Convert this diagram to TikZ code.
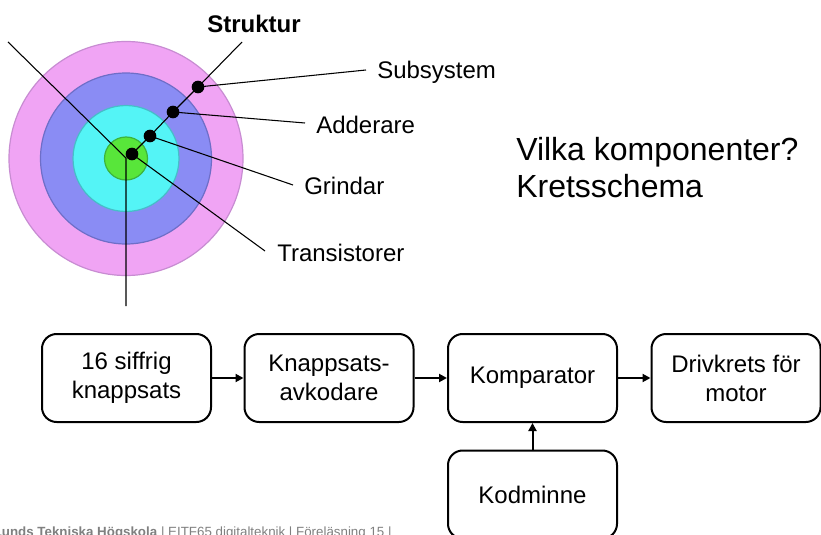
\documentclass[tikz,border=0pt]{standalone}
\usepackage{fontspec}
\setmainfont{Liberation Sans}
\usetikzlibrary{arrows.meta}
\definecolor{ringpink}{RGB}{240,164,244}
\definecolor{ringpinkline}{RGB}{200,140,210}
\definecolor{ringblue}{RGB}{138,140,244}
\definecolor{ringblueline}{RGB}{110,110,200}
\definecolor{ringcyan}{RGB}{84,244,246}
\definecolor{ringcyanline}{RGB}{70,190,200}
\definecolor{ringgreen}{RGB}{88,230,58}
\definecolor{ringgreenline}{RGB}{60,180,60}
\definecolor{footgray}{RGB}{128,128,128}
\tikzset{
  ring/.style={line width=0.9pt},
  leader/.style={line width=0.8pt, black},
  dotmark/.style={circle, fill=black, inner sep=0pt, minimum size=9.5pt},
  label/.style={font=\fontsize{18}{21.6}\selectfont, inner sep=0pt},
  block/.style={draw, line width=1.5pt, rounded corners=11pt, minimum width=126.75pt,
    minimum height=66pt, align=center, inner sep=0pt,
    font=\fontsize{18}{21.75}\selectfont},
  flow/.style={line width=1.5pt, -{Triangle[length=6pt, width=6pt]}}
}
\begin{document}
\begin{tikzpicture}[x=0.75pt, y=-0.75pt]
\clip (0,0) rectangle (821,535);
\fill[white] (0,0) rectangle (821,535);

% concentric rings of the structure hierarchy
\draw[ring, fill=ringpink, draw=ringpinkline] (126,158.5) circle (117);
\draw[ring, fill=ringblue, draw=ringblueline] (126,158.5) circle (85.5);
\draw[ring, fill=ringcyan, draw=ringcyanline] (126,158.5) circle (53);
\draw[ring, fill=ringgreen, draw=ringgreenline] (126,158.5) circle (21.5);

% axes through the rings
\coordinate (axisTL) at (8,42);
\coordinate (axisC) at (126,158);
\coordinate (axisB) at (126,306);
\coordinate (axisTR) at (242,42);
\draw[leader] (axisTL) -- (axisC) -- (axisB);

% level markers
\node[dotmark] (dSub) at (198,87) {};
\node[dotmark] (dAdd) at (173,112) {};
\node[dotmark] (dGri) at (150,136) {};
\node[dotmark] (dTra) at (132,154) {};
\draw[leader] (axisTR) -- (dSub.center) -- (dAdd.center) -- (dGri.center) -- (dTra.center);

% level names
\node[label, font=\fontsize{18}{21.6}\selectfont\bfseries, anchor=west] (struktur) at (207,24) {Struktur};
\node[label, anchor=west] (lSub) at (377,72) {Subsystem};
\node[label, anchor=west] (lAdd) at (316,125) {Adderare};
\node[label, anchor=west] (lGri) at (304,186) {Grindar};
\node[label, anchor=west] (lTra) at (277,253) {Transistorer};

\coordinate (eSub) at (366,70);
\coordinate (eAdd) at (305,123);
\coordinate (eGri) at (293,185);
\coordinate (eTra) at (265,251);
\draw[leader] (dSub.center) -- (eSub);
\draw[leader] (dAdd.center) -- (eAdd);
\draw[leader] (dGri.center) -- (eGri);
\draw[leader] (dTra.center) -- (eTra);

% question text
\node[font=\fontsize{24}{27.75}\selectfont, align=left, anchor=north west, inner sep=0pt] (question) at (516,137)
  {Vilka komponenter?\\Kretsschema};

% block diagram
\node[block] (keypad) at (126.5,378) {16 siffrig\\knappsats};
\node[block] (decoder) at (329,378) {Knappsats-\\avkodare};
\node[block] (comparator) at (532.5,378) {Komparator};
\node[block] (driver) at (736,378) {Drivkrets för\\motor};
\node[block] (memory) at (532.5,494.5) {Kodminne};

\draw[flow] (keypad) -- (decoder);
\draw[flow] (decoder) -- (comparator);
\draw[flow] (comparator) -- (driver);
\draw[flow] (memory) -- (comparator);

% footer
\node[anchor=base west, inner sep=0pt, text=footgray, font=\fontsize{10}{12}\selectfont] (footer) at (-6.5,536.5)
  {\textbf{Lunds Tekniska Högskola} | EITF65 digitalteknik | Föreläsning 15 |};
\end{tikzpicture}
\end{document}
